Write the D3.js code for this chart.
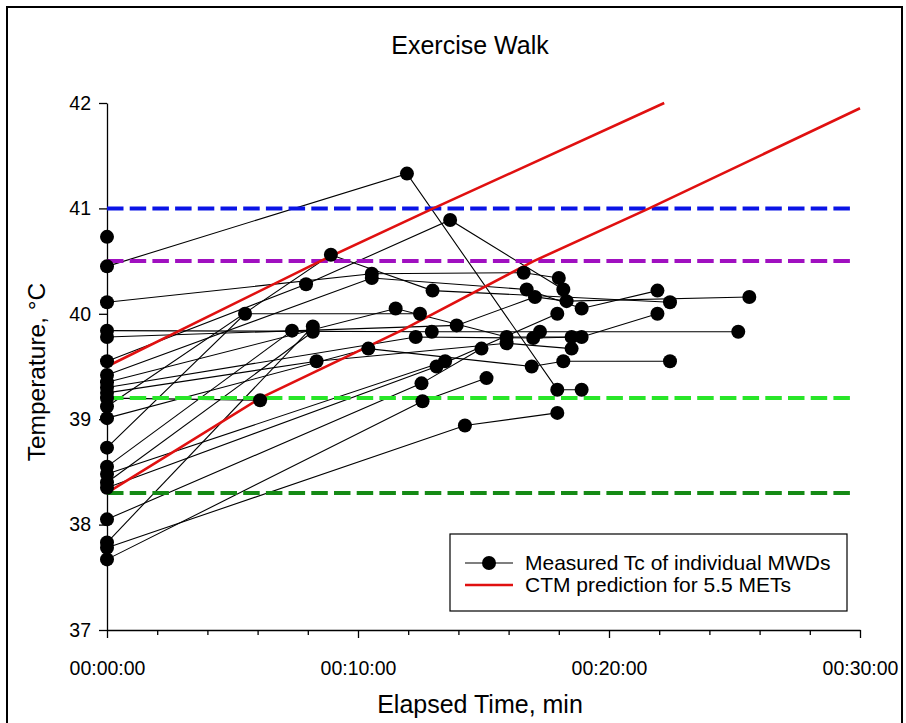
<!DOCTYPE html>
<html>
<head>
<meta charset="utf-8">
<script src="https://cdn.jsdelivr.net/npm/d3@7"></script>
<style>
  body { margin: 0; background: #fff; }
  svg { display: block; }
  text { font-family: "Liberation Sans", Arial, sans-serif; fill: #000; }
</style>
</head>
<body>
<svg id="chart" width="906" height="723"></svg>
<script>
// Axis ticks
const xTicks = [0, 10, 20, 30];
const xTickLabels = ["00:00:00", "00:10:00", "00:20:00", "00:30:00"];
const xMinorTicks = [2, 4, 6, 8, 12, 14, 16, 18, 22, 24, 26, 28];
const yTicks = [37, 38, 39, 40, 41, 42];

// Reference temperature levels (°C) and their colours
const levels = [41.0, 40.5, 39.2, 38.3];
const levelColors = ["#0a14e6", "#a010c0", "#28e628", "#158a15"];
const levelSpan = [0, 29.6];

// CTM prediction curves for 5.5 METs: [minutes, °C]
const ctmFromHigh = [[0, 39.5], [8.5, 40.5], [13.0, 41.0], [22.2, 42.0]];
const ctmFromLow = [[0, 38.3], [6.1, 39.2], [11.8, 39.85], [17.0, 40.5], [21.6, 41.0], [30, 41.95]];

// Measured core temperature of individual MWDs: [minutes, °C]
const mwd01 = [[0, 40.73]];
const mwd02 = [[0, 40.45], [11.95, 41.33], [17.94, 39.28], [18.91, 39.28]];
const mwd03 = [[0, 40.11], [10.55, 40.38], [16.6, 40.39], [18.0, 40.34]];
const mwd04 = [[0, 39.84], [12.94, 39.83], [17.25, 39.83], [25.15, 39.83]];
const mwd05 = [[0, 39.78], [13.93, 39.89], [17.05, 40.16], [18.31, 40.12], [25.59, 40.16]];
const mwd06 = [[0, 39.55], [7.93, 40.28], [13.67, 40.89], [18.18, 40.23]];
const mwd07 = [[0, 39.42], [10.55, 40.34], [16.72, 40.23], [18.91, 40.05], [21.93, 40.22]];
const mwd08 = [[0, 39.35], [11.5, 40.05], [15.92, 39.78], [18.51, 39.78]];
const mwd09 = [[0, 39.30], [12.3, 39.78], [16.98, 39.77], [18.91, 39.78], [21.93, 40.0]];
const mwd10 = [[0, 39.25], [8.35, 39.55], [15.92, 39.72], [18.51, 39.67]];
const mwd11 = [[0, 39.20], [6.1, 39.18]];
const mwd12 = [[0, 39.12], [8.92, 40.56], [12.97, 40.22], [22.43, 40.11]];
const mwd13 = [[0, 39.01], [10.41, 39.67], [16.92, 39.50], [18.18, 39.55], [22.43, 39.55]];
const mwd14 = [[0, 38.73], [5.5, 40.0], [12.47, 40.0]];
const mwd15 = [[0, 38.55], [7.37, 39.84]];
const mwd16 = [[0, 38.48], [13.47, 39.55]];
const mwd17 = [[0, 38.40], [8.2, 39.83]];
const mwd18 = [[0, 38.35], [13.13, 39.50], [17.94, 40.0]];
const mwd19 = [[0, 38.05], [12.53, 39.34], [14.92, 39.67]];
const mwd20 = [[0, 37.83], [8.2, 39.88]];
const mwd21 = [[0, 37.78], [14.26, 38.94], [17.94, 39.06]];
const mwd22 = [[0, 37.67], [12.57, 39.17], [15.12, 39.39]];

const subjects = [mwd01, mwd02, mwd03, mwd04, mwd05, mwd06, mwd07, mwd08, mwd09, mwd10, mwd11,
                  mwd12, mwd13, mwd14, mwd15, mwd16, mwd17, mwd18, mwd19, mwd20, mwd21, mwd22];

const svg = d3.select("#chart");

// Outer frame
svg.append("rect")
  .attr("x", 7).attr("y", 7).attr("width", 895).attr("height", 740)
  .attr("fill", "none").attr("stroke", "#000").attr("stroke-width", 2);

const x = d3.scaleLinear().domain([0, 30]).range([107, 860]);
const y = d3.scaleLinear().domain([37, 42]).range([630, 103]);

// Title and axis titles
svg.append("text")
  .attr("x", 470).attr("y", 54)
  .attr("text-anchor", "middle").attr("font-size", 25)
  .text("Exercise Walk");

svg.append("text")
  .attr("transform", "translate(45,372) rotate(-90)")
  .attr("text-anchor", "middle").attr("font-size", 24.5)
  .text("Temperature, °C");

svg.append("text")
  .attr("x", 480).attr("y", 713)
  .attr("text-anchor", "middle").attr("font-size", 25)
  .text("Elapsed Time, min");

// Axes
svg.append("g")
  .attr("transform", `translate(${x(0)},0)`)
  .call(d3.axisLeft(y).tickValues(yTicks).tickFormat(d3.format("d"))
    .tickSize(8).tickSizeOuter(0).tickPadding(8));

svg.append("g")
  .attr("transform", `translate(0,${y(37)})`)
  .call(d3.axisBottom(x).tickValues(xTicks).tickFormat((d, i) => xTickLabels[i])
    .tickSize(8).tickSizeOuter(0).tickPadding(23));

svg.append("g")
  .attr("transform", `translate(0,${y(37)})`)
  .call(d3.axisBottom(x).tickValues(xMinorTicks).tickFormat("").tickSize(5).tickSizeOuter(0))
  .call(g => g.select(".domain").remove());

svg.selectAll(".tick text").attr("font-size", 19.5).attr("font-family", '"Liberation Sans", Arial, sans-serif');
svg.selectAll(".domain, .tick line").attr("stroke", "#000").attr("stroke-width", 1.3);

const line = d3.line().x(d => x(d[0])).y(d => y(d[1]));

// Individual MWD traces
svg.append("g").selectAll("path")
  .data(subjects)
  .join("path")
  .attr("d", line)
  .attr("fill", "none")
  .attr("stroke", "#000")
  .attr("stroke-width", 1.1);

// Reference levels
svg.append("g").selectAll("line")
  .data(levels)
  .join("line")
  .attr("x1", x(levelSpan[0])).attr("x2", x(levelSpan[1]))
  .attr("y1", d => y(d)).attr("y2", d => y(d))
  .attr("stroke", (d, i) => levelColors[i])
  .attr("stroke-width", 4)
  .attr("stroke-dasharray", "16.5 6.2");

// CTM predictions
svg.append("g").selectAll("path")
  .data([ctmFromHigh, ctmFromLow])
  .join("path")
  .attr("d", line)
  .attr("fill", "none")
  .attr("stroke", "#e01010")
  .attr("stroke-width", 2.6);

// Measurement markers
svg.append("g").selectAll("circle")
  .data(subjects.flat())
  .join("circle")
  .attr("cx", d => x(d[0])).attr("cy", d => y(d[1]))
  .attr("r", 7).attr("fill", "#000");

// Legend
const legend = svg.append("g");
legend.append("rect")
  .attr("x", 450).attr("y", 534).attr("width", 397).attr("height", 77)
  .attr("fill", "#fff").attr("stroke", "#000").attr("stroke-width", 1.2);
legend.append("line")
  .attr("x1", 465).attr("x2", 513).attr("y1", 563).attr("y2", 563)
  .attr("stroke", "#000").attr("stroke-width", 1.1);
legend.append("circle").attr("cx", 489).attr("cy", 563).attr("r", 7).attr("fill", "#000");
legend.append("text").attr("x", 525).attr("y", 570).attr("font-size", 21)
  .text("Measured Tc of individual MWDs");
legend.append("line")
  .attr("x1", 465).attr("x2", 513).attr("y1", 585).attr("y2", 585)
  .attr("stroke", "#e01010").attr("stroke-width", 2.6);
legend.append("text").attr("x", 525).attr("y", 592).attr("font-size", 21)
  .text("CTM prediction for 5.5 METs");
</script>
</body>
</html>
